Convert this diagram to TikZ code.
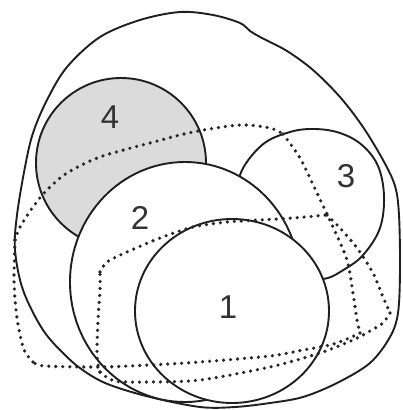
\documentclass[tikz,border=0pt]{standalone}
\usepackage{fontspec}
\setmainfont{Liberation Sans}
\begin{document}
\begin{tikzpicture}[x=1pt,y=-1pt,line join=round,
  rim/.style={draw=black!88,line width=1.9pt},
  dotline/.style={draw=black!85,line width=3.6pt,line cap=round,dash pattern=on 0pt off 7pt},
  lbl/.style={font=\fontsize{33}{33}\selectfont,text=black!80,inner sep=0pt}]
\useasboundingbox[fill=white] (0,0) rectangle (403,410);
% outer blob
\draw[rim] plot[smooth cycle,tension=0.55] coordinates {
 (180,12)(213,15)(240,23)(250,31)(262,38)(287,51)(313,70)(340,97)(363,127)(383,160)(395,186)
 (399,215)(400,270)(398,313)(390,337)(370,363)(337,383)(303,397)(270,403)(235,407)(200,407)
 (150,397)(110,385)(87,373)(67,357)(43,330)(23,290)(15,250)(17,215)(25,167)(33,133)(47,100)
 (67,67)(100,37)(140,20)};
% circle 4 (grey)
\draw[rim,fill=black!14] (121,163) circle (85);
% circle 3
\draw[rim,fill=white] plot[smooth cycle,tension=0.6] coordinates {
 (240,175)(262,145)(290,132)(315,129)(340,133)(362,145)(378,166)(384,196)(380,228)(364,254)
 (345,269)(322,279)(290,272)(260,242)(243,205)};
% circle 2
\draw[rim,fill=white] (185,282) ellipse [x radius=115,y radius=120];
% circle 1
\draw[rim,fill=white] (232,311) ellipse [x radius=97,y radius=92];
% dotted shape A
\draw[dotline] plot[smooth,tension=0.5] coordinates {(15,240)(20,227)(33,207)(47,190)(67,173)(100,157)(150,143)(193,132)(240,125)(270,128)(283,134)};
\draw[dotline] plot[smooth,tension=0.5] coordinates {(283,134)(300,158)(317,193)(333,227)(347,260)(353,293)(357,320)(360,333)};
\draw[dotline] plot[smooth,tension=0.5] coordinates {(360,333)(347,339)(330,345)(303,350)(270,356)(200,362)(150,365)(100,367)(45,366)(33,362)};
\draw[dotline] plot[smooth,tension=0.5] coordinates {(33,362)(25,352)(20,335)(16,310)(14,280)(15,240)};
% dotted shape B
\draw[dotline] plot[smooth,tension=0.5] coordinates {(100,272)(107,262)(127,252)(160,238)(193,227)(227,222)(260,220)(293,218)(327,215)};
\draw[dotline] plot[smooth,tension=0.5] coordinates {(327,215)(340,228)(357,248)(373,273)(383,297)(390,313)};
\draw[dotline] plot[smooth,tension=0.5] coordinates {(390,313)(383,323)(370,331)(353,340)(320,353)(270,367)(200,380)(150,382)(115,381)(100,372)};
\draw[dotline] plot[smooth,tension=0.5] coordinates {(100,372)(97,357)(98,320)(100,290)(100,272)};
% labels
\node[lbl] (l4) at (110,117) {4};
\node[lbl] (l3) at (346,176) {3};
\node[lbl] (l2) at (140,218) {2};
\node[lbl] (l1) at (228,307) {1};
\end{tikzpicture}
\end{document}
